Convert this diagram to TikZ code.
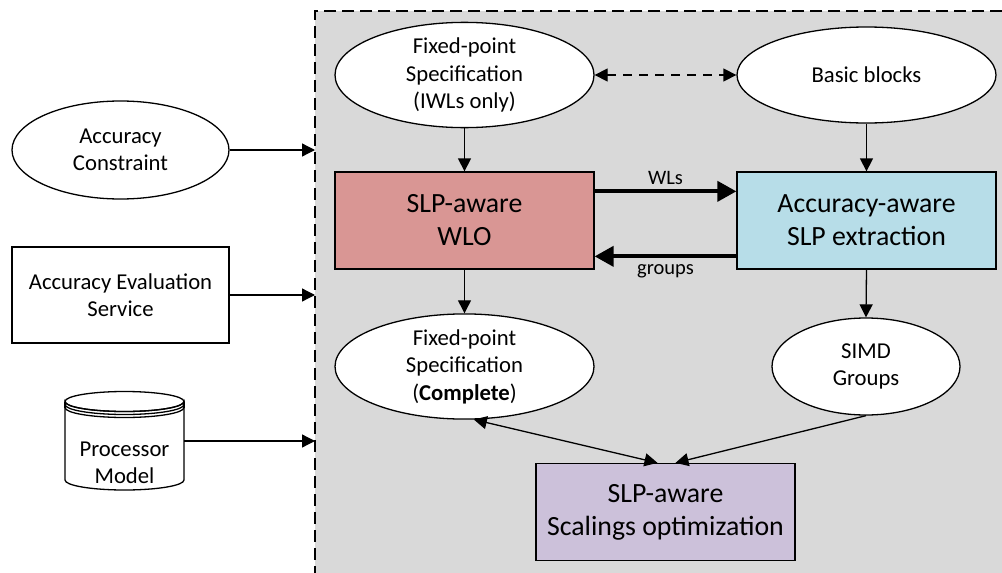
\documentclass[tikz,border=0pt]{standalone}
\usepackage{fontspec}
\setmainfont{Carlito}
\usetikzlibrary{arrows.meta,shapes.geometric}
\definecolor{regiongray}{HTML}{D9D9D9}
\definecolor{wlored}{HTML}{D99694}
\definecolor{slpblue}{HTML}{B7DDE8}
\definecolor{scalepurple}{HTML}{CCC1DA}
\tikzset{
  base/.style={line width=1.3pt},
  txt/.style={font=\fontsize{22.7pt}{27.5pt}\selectfont},
  ell/.style={base,draw,ellipse,fill=white,inner sep=0pt,align=center,txt},
  bigbox/.style={base,draw,rectangle,inner sep=0pt,minimum width=259pt,minimum height=97pt,align=center,font=\fontsize{27.8pt}{33pt}\selectfont},
  arr/.style={base,-{Triangle[length=13pt,width=13pt]}},
  thickarr/.style={line width=4pt,-{Triangle[length=19pt,width=20pt]}},
  lbl/.style={font=\fontsize{20.5pt}{24pt}\selectfont},
}
\begin{document}
\begin{tikzpicture}[x=1pt,y=-1pt]
\useasboundingbox (0,0) rectangle (1002,573);
% region
\fill[regiongray] (315,11) rectangle (1002,573);
\draw[base,dash pattern=on 12pt off 6pt] (1002,11) -- (315,11) -- (315,573);
\coordinate (in1) at (315,150);
\coordinate (in2) at (315,295);
\coordinate (in3) at (315,441);

% left inputs
\node[ell,minimum width=217pt,minimum height=98pt] (ac) at (120.5,150) {Accuracy\\Constraint};
\node[base,draw,rectangle,fill=white,minimum width=217pt,minimum height=96pt,align=center,txt] (aes) at (120.5,295) {Accuracy Evaluation\\Service};
% cylinder
\draw[base,fill=white] (65,401.5) -- (65,480) arc[start angle=180,end angle=360,x radius=59.5pt,y radius=10pt] -- (184,401.5)
  arc[start angle=0,end angle=-180,x radius=59.5pt,y radius=10pt] -- cycle;
\draw[base] (65,401.5) arc[start angle=180,end angle=-180,x radius=59.5pt,y radius=10pt];
\draw[base] (65,404.5) arc[start angle=180,end angle=360,x radius=59.5pt,y radius=10pt];
\draw[base] (65,407.5) arc[start angle=180,end angle=360,x radius=59.5pt,y radius=10pt];
\draw[base] (65,401.5) -- (65,407.5) (184,401.5) -- (184,407.5);
\node[align=center,txt] (pm) at (124.5,463) {Processor\\Model};
\coordinate (pmr) at (184,441);

\draw[arr] (ac.east) -- (in1);
\draw[arr] (aes.east) -- (in2);
\draw[arr] (pmr) -- (in3);

% inner nodes
\node[ell,minimum width=259pt,minimum height=96pt] (iwl) at (464.5,75) {Fixed-point\\Specification\\(IWLs only)};
\node[ell,minimum width=259pt,minimum height=96pt] (bb) at (866.5,75) {Basic blocks};
\node[bigbox,fill=wlored] (wlo) at (464.5,220.5) {SLP-aware\\WLO};
\node[bigbox,fill=slpblue] (ext) at (866.5,220.5) {Accuracy-aware\\SLP extraction};
\node[ell,minimum width=259pt,minimum height=97pt] (cfp) at (464.5,366.5) {Fixed-point\\Specification\\(\textbf{Complete})};
\node[ell,minimum width=188pt,minimum height=97pt] (simd) at (866,366.5) {SIMD\\Groups};
\node[bigbox,fill=scalepurple] (so) at (665.5,512) {SLP-aware\\Scalings optimization};

% connectors
\draw[base,dash pattern=on 9pt off 7pt,{Triangle[length=13pt,width=13pt]}-{Triangle[length=13pt,width=13pt]}] (iwl.east) -- (bb.west);
\draw[arr] (iwl.south) -- (wlo.north);
\draw[arr] (bb.south) -- (ext.north);
\draw[thickarr] ([yshift=-20pt]wlo.north east) -- node[lbl,above=1pt] {WLs} ([yshift=-20pt]ext.north west);
\draw[thickarr] ([yshift=-85pt]ext.north west) -- node[lbl,below=3pt] {groups} ([yshift=-85pt]wlo.north east);
\draw[arr] (wlo.south) -- (cfp.north);
\draw[arr] (ext.south) -- (simd.north);
\draw[base,{Triangle[length=13pt,width=13pt]}-{Triangle[length=13pt,width=13pt]}] (cfp.-80) -- ([xshift=-8pt]so.north);
\draw[arr] (simd.south) -- ([xshift=10pt]so.north);
\end{tikzpicture}
\end{document}
